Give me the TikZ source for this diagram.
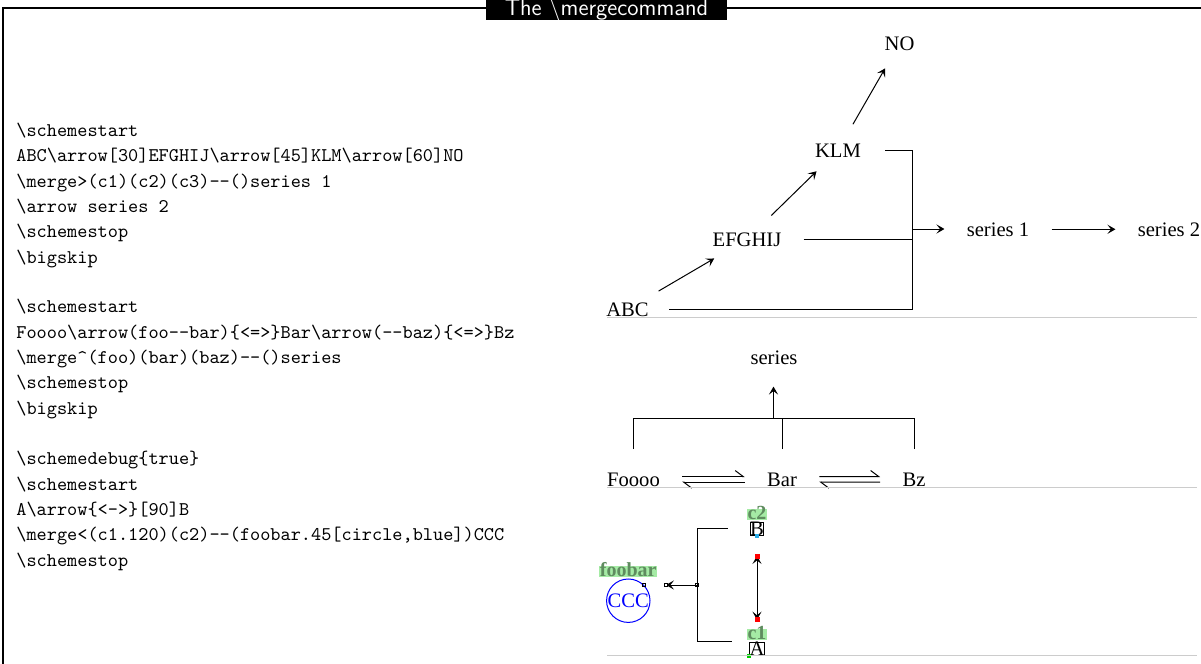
\documentclass[tikz,border=0pt]{standalone}
\usepackage{fontspec}
\setmainfont{Liberation Serif}
\usetikzlibrary{arrows.meta,positioning}
\definecolor{dbgfill}{RGB}{165,235,165}
\definecolor{dbgtext}{RGB}{95,140,95}
\definecolor{dotcyan}{RGB}{40,170,230}
\newcommand{\bs}{\textbackslash}
\tikzset{
  cmpd/.style={inner sep=1pt,anchor=base,font=\fontsize{10.3}{12}\selectfont},
  dbgbox/.style={draw,inner sep=0pt,line width=0.4pt,font=\fontsize{10.3}{12}\selectfont},
  dbglbl/.style={fill=dbgfill,text=dbgtext,inner sep=0.3pt,text height=5pt,text depth=0pt,
                 font=\fontsize{10}{11}\selectfont\bfseries},
  dbgsq/.style={draw,line width=0.35pt,inner sep=0pt,minimum size=1.8pt},
  dbgdot/.style={inner sep=0pt,minimum size=1.8pt},
  code/.style={align=left,inner sep=0pt,anchor=base west,
               font=\fontsize{9.68}{12.65}\selectfont\ttfamily},
  arr/.style={-{Stealth[length=4pt,width=4.6pt,inset=1.8pt]},line width=0.5pt},
  dbl/.style={{Stealth[length=4pt,width=4.6pt,inset=1.8pt]}-{Stealth[length=4pt,width=4.6pt,inset=1.8pt]},
              line width=0.5pt},
  harp/.style={-{Straight Barb[harpoon,length=4pt,width=6pt]},line width=0.5pt},
  mrg/.style={line width=0.5pt},
  sepline/.style={gray!40,line width=0.5pt},
}
\begin{document}
\begin{tikzpicture}[x=0.5pt,y=-0.5pt]
  \useasboundingbox (0,0) rectangle (1201,664);
  % frame and title tab
  \draw[line width=0.8pt] (3,664) -- (3,8) -- (1201,8);
  \fill (486,0) rectangle (727,20);
  \node[text=white,font=\fontsize{11.5}{12}\selectfont\sffamily] (title) at (606.5,10)
    {The \bs mergecommand};

  % source listings (placed by their last baseline)
  \node[code] (code1) at (16,263) {\bs schemestart\\
    ABC\bs arrow[30]EFGHIJ\bs arrow[45]KLM\bs arrow[60]NO\\
    \bs merge>(c1)(c2)(c3)-{}-()series 1\\
    \bs arrow series 2\\
    \bs schemestop\\
    \bs bigskip};
  \node[code] (code2) at (16,414) {\bs schemestart\\
    Foooo\bs arrow(foo-{}-bar)\{<=>\}Bar\bs arrow(-{}-baz)\{<=>\}Bz\\
    \bs merge\textasciicircum(foo)(bar)(baz)-{}-()series\\
    \bs schemestop\\
    \bs bigskip};
  \node[code] (code3) at (16,566) {\bs schemedebug\{true\}\\
    \bs schemestart\\
    A\bs arrow\{<->\}[90]B\\
    \bs merge<(c1.120)(c2)-{}-(foobar.45[circle,blue])CCC\\
    \bs schemestop};

  % first scheme
  \node[cmpd] (abc) at (627.5,316) {ABC};
  \node[cmpd] (efghij) at (747,246) {EFGHIJ};
  \node[cmpd] (klm) at (838,157) {KLM};
  \node[cmpd] (no) at (899.5,50) {NO};
  \node[cmpd] (ser1) at (998,236) {series 1};
  \node[cmpd] (ser2) at (1169,236) {series 2};
  \draw[arr,shorten <=18pt,shorten >=19pt] (abc.center) -- (efghij.center);
  \draw[arr,shorten <=17pt,shorten >=15pt] (efghij.center) -- (klm.center);
  \draw[arr,shorten <=15pt,shorten >=14.5pt] (klm.center) -- (no.center);
  \coordinate (jn1) at (912,229);
  \draw[mrg] ([xshift=11pt]klm.east) -| (jn1);
  \draw[mrg] ([xshift=10pt]efghij.east) -| (jn1);
  \draw[mrg] ([xshift=9pt]abc.east) -| (jn1);
  \draw[arr,shorten >=10pt] (jn1) -- (jn1 -| ser1.west);
  \draw[arr,shorten <=10pt,shorten >=10pt] (ser1) -- (ser2);
  \draw[sepline] (607,317) -- (1197,317);

  % second scheme
  \node[cmpd] (foo) at (633.5,486) {Foooo};
  \node[cmpd] (bar) at (782,486) {Bar};
  \node[cmpd] (baz) at (914,486) {Bz};
  \node[cmpd] (ser) at (774,364) {series};
  \draw[harp,shorten <=10pt,shorten >=10pt] ([yshift=1.4pt]foo.east) -- ([yshift=1.4pt]bar.west);
  \draw[harp,shorten <=10pt,shorten >=10pt] ([yshift=-1.4pt]bar.west) -- ([yshift=-1.4pt]foo.east);
  \draw[harp,shorten <=10pt,shorten >=10pt] ([yshift=1.4pt]bar.east) -- ([yshift=1.4pt]baz.west);
  \draw[harp,shorten <=10pt,shorten >=10pt] ([yshift=-1.4pt]baz.west) -- ([yshift=-1.4pt]bar.east);
  \coordinate (jn2) at (773.5,418);
  \draw[mrg] ([yshift=10.5pt]foo.north) |- (jn2);
  \draw[mrg] ([yshift=10.5pt]bar.north) |- (jn2);
  \draw[mrg] ([yshift=10.5pt]baz.north) |- (jn2);
  \draw[arr,shorten >=10pt] (jn2) -- (jn2 |- ser.south);
  \draw[sepline] (607,487) -- (1197,487);

  % third scheme (debug)
  \node[dbgbox,anchor=south,label={[dbglbl,label distance=0.5pt]above:c2}] (nb) at (757,536) {B};
  \node[dbgbox,anchor=south,label={[dbglbl,label distance=0.5pt]above:c1}] (na) at (757,656) {A};
  \node[dbgdot,fill=dotcyan] at (nb.south) {};
  \node[dbgdot,fill=green!80!black] at (na.south west) {};
  \coordinate (pa) at ([yshift=11pt]na.north);
  \coordinate (pb) at ([yshift=-10pt]nb.south);
  \draw[dbl] (pa) -- (pb);
  \node[dbgdot,fill=red,minimum size=2.5pt] at (pa) {};
  \node[dbgdot,fill=red,minimum size=2.5pt] at (pb) {};
  \coordinate (mj) at (697,585);
  \draw[mrg] ([xshift=-10.5pt]na.120) -| (mj);
  \draw[mrg] ([xshift=-11pt]nb.west) -| (mj);
  \coordinate (mend) at ([xshift=-15.5pt]mj);
  \draw[arr] (mj) -- (mend);
  \node[dbgsq] at (mj) {};
  \node[dbgsq,fill=white] at (mend) {};
  \node[circle,draw=blue,text=blue,inner sep=0pt,line width=0.5pt,anchor=45,
        font=\fontsize{10.3}{12}\selectfont,
        label={[dbglbl,label distance=0.5pt]above:foobar}] (foobar) at ([xshift=-11pt]mend) {CCC};
  \node[dbgsq] at (foobar.45) {};
  \draw[sepline] (607,655) -- (1197,655);
\end{tikzpicture}
\end{document}
